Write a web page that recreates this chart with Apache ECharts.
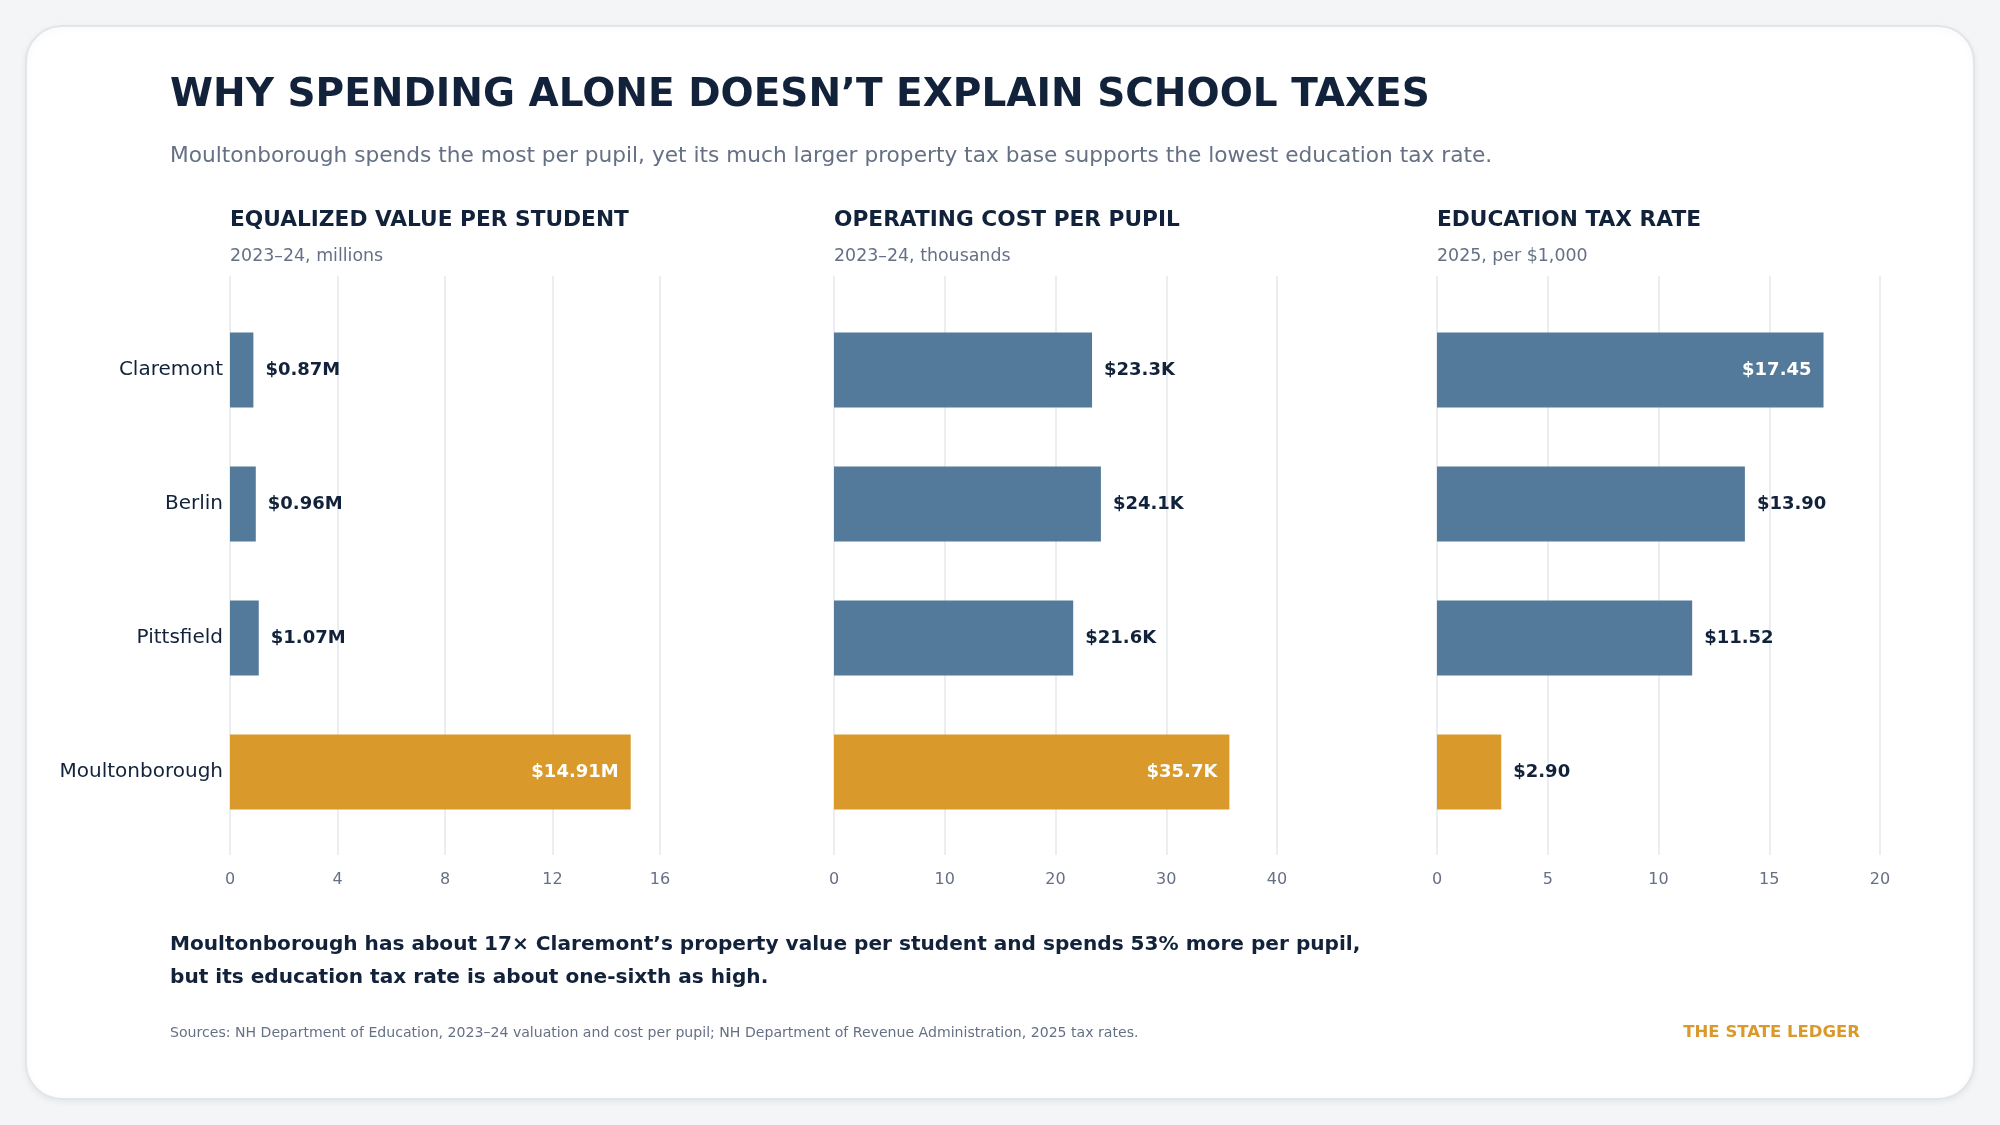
<!DOCTYPE html>
<html>
<head>
    <meta charset="UTF-8">
    <title>School taxes</title>
    <style>
        html, body {
            margin: 0;
            padding: 0;
            background: #f4f5f7;
        }

        #chart {
            width: 2000px;
            height: 1125px;
        }
    </style>
    <script src="https://cdn.jsdelivr.net/npm/echarts@6/dist/echarts.min.js"></script>
</head>
<body>
<div id="chart"></div>
<script>
    // data
    var towns = ['Claremont', 'Berlin', 'Pittsfield', 'Moultonborough'];
    var highlightTown = 'Moultonborough';

    var valuePerStudent = [0.87, 0.96, 1.07, 14.91];   // $ millions
    var costPerPupil = [23.3, 24.1, 21.6, 35.7];       // $ thousands
    var taxRate = [17.45, 13.90, 11.52, 2.90];         // $ per 1,000

    var panelTitles = ['EQUALIZED VALUE PER STUDENT', 'OPERATING COST PER PUPIL', 'EDUCATION TAX RATE'];
    var panelSubtitles = ['2023\u201324, millions', '2023\u201324, thousands', '2025, per $1,000'];
    var axisMax = [16, 40, 20];
    var axisStep = [4, 10, 5];

    var FONT = 'DejaVu Sans';
    var DARK = '#12223a';
    var GREY = '#667085';
    var BLUE = '#537a9a';
    var ORANGE = '#d9992b';

    var panels = [
        {values: valuePerStudent, fmt: function (v) { return '$' + v.toFixed(2) + 'M'; }, left: 230, width: 430},
        {values: costPerPupil, fmt: function (v) { return '$' + v.toFixed(1) + 'K'; }, left: 834, width: 443},
        {values: taxRate, fmt: function (v) { return '$' + v.toFixed(2); }, left: 1437, width: 443}
    ];

    var chart = echarts.init(document.getElementById('chart'), null, {renderer: 'canvas'});

    var grids = [], xAxes = [], yAxes = [], series = [], graphics = [];

    // card
    graphics.push({
        type: 'rect', z: -10,
        shape: {x: 26, y: 26, width: 1948, height: 1073, r: 36},
        style: {fill: '#ffffff', stroke: '#e2e6eb', lineWidth: 2, shadowBlur: 6, shadowColor: 'rgba(0,0,0,0.06)', shadowOffsetY: 2}
    });

    function txt(x, y, text, size, weight, color, align) {
        graphics.push({
            type: 'text', x: x, y: y,
            style: {text: text, font: weight + ' ' + size + 'px "' + FONT + '"', fill: color, align: align || 'left', verticalAlign: 'middle'}
        });
    }

    txt(170, 96, 'WHY SPENDING ALONE DOESN\u2019T EXPLAIN SCHOOL TAXES', 39, 'bold', DARK);
    txt(170, 156, 'Moultonborough spends the most per pupil, yet its much larger property tax base supports the lowest education tax rate.', 21.7, 'normal', GREY);
    txt(170, 945, 'Moultonborough has about 17\u00d7 Claremont\u2019s property value per student and spends 53% more per pupil,', 20.1, 'bold', DARK);
    txt(170, 978, 'but its education tax rate is about one-sixth as high.', 20.1, 'bold', DARK);
    txt(170, 1033, 'Sources: NH Department of Education, 2023\u201324 valuation and cost per pupil; NH Department of Revenue Administration, 2025 tax rates.', 14.1, 'normal', GREY);
    txt(1860, 1033, 'THE STATE LEDGER', 16.5, 'bold', ORANGE, 'right');

    panels.forEach(function (p, i) {
        txt(p.left, 220, panelTitles[i], 21.7, 'bold', DARK);
        txt(p.left, 256, panelSubtitles[i], 17.4, 'normal', GREY);

        // grid for the vertical gridlines and tick labels
        grids.push({left: p.left, width: p.width, top: 276, height: 579});
        xAxes.push({
            type: 'value', gridIndex: 2 * i, min: 0, max: axisMax[i], interval: axisStep[i],
            axisLine: {show: false}, axisTick: {show: false},
            axisLabel: {fontFamily: FONT, fontSize: 16, color: GREY, margin: 17},
            splitLine: {show: true, lineStyle: {color: '#e4e7ec', width: 1.5}}
        });
        yAxes.push({type: 'value', gridIndex: 2 * i, show: false});

        // grid for the bars
        grids.push({left: p.left, width: p.width, top: 303, height: 536});
        xAxes.push({type: 'value', gridIndex: 2 * i + 1, min: 0, max: axisMax[i], show: false});
        yAxes.push({
            type: 'category', gridIndex: 2 * i + 1, data: towns, inverse: true,
            axisLine: {show: false}, axisTick: {show: false}, splitLine: {show: false},
            axisLabel: {show: i === 0, fontFamily: FONT, fontSize: 20, color: DARK, margin: 7}
        });

        series.push({
            type: 'bar', xAxisIndex: 2 * i + 1, yAxisIndex: 2 * i + 1,
            barWidth: 75, silent: true,
            data: p.values.map(function (v, k) {
                var inside = v / axisMax[i] > 0.75;
                return {
                    value: v,
                    itemStyle: {color: towns[k] === highlightTown ? ORANGE : BLUE},
                    label: {
                        show: true,
                        position: inside ? 'insideRight' : 'right',
                        distance: 12,
                        formatter: p.fmt(v),
                        fontFamily: FONT, fontSize: 18, fontWeight: 'bold',
                        color: inside ? '#ffffff' : DARK
                    }
                };
            })
        });
    });

    chart.setOption({
        animation: false,
        backgroundColor: '#f4f5f7',
        grid: grids,
        xAxis: xAxes,
        yAxis: yAxes,
        series: series,
        graphic: graphics
    });
</script>
</body>
</html>
